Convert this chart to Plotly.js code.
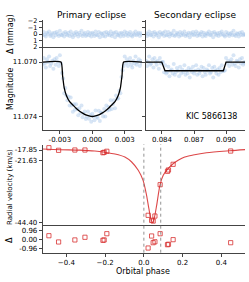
<!DOCTYPE html>
<html>
<head>
<meta charset="utf-8">
<script src="https://cdn.plot.ly/plotly-3.0.1.min.js"></script>
<style>html,body{margin:0;padding:0;background:#fff;}#chart{width:249px;height:282px;}</style>
</head>
<body>
<div id="chart"></div>
<script>
// ---- Primary eclipse photometry ----
const primPhase = [-0.0046,-0.0045,-0.0044,-0.0043,-0.0042,-0.0041,-0.0040,-0.0039,-0.0038,-0.0037,
-0.0036,-0.0035,-0.0034,-0.0033,-0.0032,-0.0031,-0.0030,-0.0029,-0.0028,-0.0027,
-0.0026,-0.0025,-0.0024,-0.0023,-0.0022,-0.0021,-0.0020,-0.0019,-0.0018,-0.0017,
-0.0016,-0.0015,-0.0014,-0.0013,-0.0012,-0.0011,-0.0010,-0.0009,-0.0008,-0.0007,
-0.0006,-0.0005,-0.0004,-0.0003,-0.0002,-0.0001,0.0000,0.0001,0.0002,0.0003,
0.0004,0.0005,0.0006,0.0007,0.0008,0.0009,0.0010,0.0011,0.0012,0.0013,
0.0014,0.0015,0.0016,0.0017,0.0018,0.0019,0.0020,0.0021,0.0022,0.0023,
0.0024,0.0025,0.0026,0.0027,0.0028,0.0029,0.0030,0.0031,0.0032,0.0033,
0.0034,0.0035,0.0036,0.0037,0.0038,0.0039,0.0040,0.0041,0.0042,0.0043,
0.0044,0.0045,0.0046];
const primMag = [11.0702,11.0697,11.0701,11.0704,11.0698,11.0700,11.0696,11.0703,11.0701,11.0699,
11.0705,11.0698,11.0702,11.0697,11.0700,11.0703,11.0695,11.0701,11.0708,11.0712,
11.0723,11.0719,11.07245,11.0728,11.07255,11.0732,11.0726,11.0732,11.07365,11.0731,
11.0735,11.0731,11.07345,11.0739,11.0734,11.07375,11.0732,11.07405,11.0738,11.07363,
11.07418,11.0740,11.07363,11.07416,11.07388,11.07439,11.0738,11.07399,11.07428,11.07356,
11.07403,11.0741,11.07358,11.07433,11.0737,11.07375,11.0740,11.07345,11.0740,11.0732,
11.07355,11.0733,11.0735,11.0728,11.07345,11.0731,11.0728,11.0734,11.07245,11.0727,
11.07265,11.0721,11.0723,11.0711,11.0706,11.0703,11.0696,11.0701,11.0698,11.0703,
11.0700,11.0697,11.0702,11.0704,11.0699,11.0701,11.0696,11.0702,11.0700,11.0698,
11.0703,11.0699,11.0701];
const primResid = [0.2,-0.3,0.1,0.4,-0.2,0.0,-0.4,0.3,0.1,-0.1,
0.5,-0.2,0.2,-0.3,0.0,0.3,-0.5,0.1,0.2,-0.1,
0.4,-0.3,0.0,0.2,-0.2,0.3,-0.4,0.1,0.5,-0.1,
0.2,-0.3,0.0,0.4,-0.2,0.1,-0.5,0.3,0.0,-0.2,
0.3,0.1,-0.3,0.2,-0.1,0.4,-0.2,0.0,0.3,-0.4,
0.1,0.2,-0.3,0.5,-0.1,0.0,0.3,-0.2,0.4,-0.3,
0.1,-0.1,0.2,-0.4,0.3,0.0,-0.2,0.5,-0.3,0.1,
0.2,-0.1,0.4,-0.2,0.0,0.3,-0.4,0.1,-0.2,0.3,
0.0,-0.3,0.2,0.4,-0.1,0.1,-0.4,0.2,0.0,-0.2,
0.3,-0.1,0.1];
const primModelPhase = [-0.0046,-0.0029,-0.00275,-0.0026,-0.0024,-0.0021,-0.0018,-0.0015,-0.0012,-0.0009,-0.0006,-0.0003,0,
0.0003,0.0006,0.0009,0.0012,0.0015,0.0018,0.0021,0.0024,0.0026,0.00275,0.0029,0.0046];
const primModelMag = [11.0700,11.0700,11.0710,11.0719,11.07245,11.0729,11.07315,11.0734,11.0736,11.07375,11.07388,11.07396,11.0740,
11.07396,11.07388,11.07375,11.0736,11.0734,11.07315,11.0729,11.07245,11.0719,11.0710,11.0700,11.0700];

// ---- Secondary eclipse photometry ----
const secPhase = [0.0825,0.0826,0.0827,0.0828,0.0829,0.0830,0.0831,0.0832,0.0833,0.0834,
0.0835,0.0836,0.0837,0.0838,0.0839,0.0840,0.0841,0.0842,0.0843,0.0844,
0.0845,0.0846,0.0847,0.0848,0.0849,0.0850,0.0851,0.0852,0.0853,0.0854,
0.0855,0.0856,0.0857,0.0858,0.0859,0.0860,0.0861,0.0862,0.0863,0.0864,
0.0865,0.0866,0.0867,0.0868,0.0869,0.0870,0.0871,0.0872,0.0873,0.0874,
0.0875,0.0876,0.0877,0.0878,0.0879,0.0880,0.0881,0.0882,0.0883,0.0884,
0.0885,0.0886,0.0887,0.0888,0.0889,0.0890,0.0891,0.0892,0.0893,0.0894,
0.0895,0.0896,0.0897,0.0898,0.0899,0.0900,0.0901,0.0902,0.0903,0.0904,
0.0905,0.0906,0.0907,0.0908,0.0909,0.0910,0.0911,0.0912,0.0913,0.0914,
0.0915,0.0916,0.0917,0.0918];
const secMag = [11.0699,11.0703,11.0700,11.0696,11.0702,11.0701,11.0698,11.0704,11.0697,11.0700,
11.0702,11.0699,11.0705,11.0697,11.0701,11.0700,11.0700,11.07075,11.07024,11.07084,
11.07074,11.07034,11.07104,11.07064,11.07054,11.07084,11.07014,11.07094,11.07074,11.07044,
11.07064,11.07104,11.07034,11.07084,11.07054,11.07074,11.07024,11.07094,11.07064,11.07084,
11.07044,11.07114,11.07054,11.07074,11.07034,11.07084,11.07064,11.07024,11.07094,11.07054,
11.07084,11.07064,11.07034,11.07104,11.07044,11.07074,11.07094,11.07054,11.07064,11.07024,
11.07084,11.07074,11.07044,11.07114,11.07034,11.07064,11.07084,11.07054,11.07094,11.07044,
11.07074,11.07024,11.07064,11.07065,11.0706,11.0697,11.0701,11.0699,11.0703,11.0700,
11.0698,11.0702,11.0695,11.0701,11.0703,11.0699,11.0700,11.0704,11.0698,11.0701,
11.0697,11.0702,11.0700,11.0701];
const secResid = [-0.1,0.3,0.0,-0.4,0.2,0.1,-0.2,0.4,-0.3,0.0,
0.2,-0.1,0.5,-0.3,0.1,0.0,-0.2,0.3,-0.4,0.2,
0.1,-0.3,0.4,0.0,-0.1,0.2,-0.5,0.3,0.1,-0.2,
0.0,0.4,-0.3,0.2,-0.1,0.1,-0.4,0.3,0.0,0.2,
-0.2,0.5,-0.1,0.1,-0.3,0.2,0.0,-0.4,0.3,-0.1,
0.2,0.0,-0.3,0.4,-0.2,0.1,0.3,-0.1,0.0,-0.4,
0.2,0.1,-0.2,0.5,-0.3,0.0,0.2,-0.1,0.3,-0.2,
0.1,-0.4,0.0,0.2,0.4,-0.3,0.1,-0.1,0.3,0.0,
-0.2,0.2,-0.5,0.1,0.3,-0.1,0.0,0.4,-0.2,0.1,
-0.3,0.2,0.0,0.1];
const secModelPhase = [0.0825,0.08398,0.08428,0.08975,0.0900,0.0918];
const secModelMag = [11.0700,11.0700,11.07064,11.07064,11.0700,11.0700];

// ---- Radial velocities ----
const rvModelPhase = [-0.522,-0.433,-0.330,-0.253,-0.201,-0.149,-0.098,-0.063,-0.029,-0.004,0.014,0.026,0.036,0.045,0.053,0.066,0.083,0.100,0.125,0.151,0.177,0.211,0.254,0.323,0.443,0.522];
const rvModel = [-17.5,-17.75,-17.9,-18.22,-18.69,-19.31,-20.41,-22.23,-25.26,-28.92,-34.40,-39.29,-42.94,-44.40,-42.94,-38.05,-30.74,-27.09,-24.68,-22.85,-21.61,-20.41,-19.68,-18.84,-18.10,-17.70];
const rvPhase = [-0.490,-0.440,-0.356,-0.304,-0.211,-0.205,-0.191,0.022,0.040,0.048,0.057,0.084,0.122,0.127,0.151,0.448];
const rvObs = [-17.01,-17.96,-17.85,-17.85,-18.84,-18.69,-18.32,-41.70,-43.53,-43.79,-41.96,-30.52,-25.63,-25.15,-23.07,-18.22];
const rvResid = [0.41,-0.27,-0.05,0.24,-0.09,-0.05,0.63,-0.93,0.38,-0.35,-0.25,0.63,-0.57,-0.52,-0.02,-0.35];
const eclipsePhases = [0.0, 0.087];

// ---- Ticks ----
const primTicks = [-0.003, 0.0, 0.003];
const primTickText = ['-0.003', '0.000', '0.003'];
const secTicks = [0.084, 0.087, 0.090];
const secTickText = ['0.084', '0.087', '0.090'];
const magTicks = [11.070, 11.074];
const magTickText = ['11.070', '11.074'];
const dmagTicks = [-2, -1, 0, 1, 2];
const dmagTickText = ['\u22122', '\u22121', '0', '1', '2'];
const rvTicks = [-17.85, -21.63, -44.40];
const rvTickText = ['-17.85', '-21.63', '-44.40'];
const rvResTicks = [0.96, 0.0, -0.96];
const rvResTickText = ['0.96', '0.00', '-0.96'];
const phaseTicks = [-0.4, -0.2, 0.0, 0.2, 0.4];
const phaseTickText = ['\u22120.4', '\u22120.2', '0.0', '0.2', '0.4'];

const FONT = 'DejaVu Sans';
const ptColor = 'rgba(160,192,232,0.42)';
const red = 'rgba(214,39,40,0.85)';

const base = {showline:true, linecolor:'#444', linewidth:1, ticks:'outside', ticklen:3, tickwidth:1,
  tickcolor:'#444', showgrid:false, zeroline:false, automargin:false,
  tickfont:{family:FONT, size:7, color:'#000'}};

const ptMarker = {size:4, color:ptColor};
const traces = [
  {x:primPhase, y:primResid, xaxis:'x', yaxis:'y', mode:'markers', type:'scatter', marker:ptMarker},
  {x:secPhase, y:secResid, xaxis:'x2', yaxis:'y2', mode:'markers', type:'scatter', marker:ptMarker},
  {x:primPhase, y:primMag, xaxis:'x', yaxis:'y3', mode:'markers', type:'scatter', marker:ptMarker},
  {x:primModelPhase, y:primModelMag, xaxis:'x', yaxis:'y3', mode:'lines', type:'scatter',
   line:{color:'#000', width:1.3, shape:'spline', smoothing:0.5}},
  {x:secPhase, y:secMag, xaxis:'x2', yaxis:'y4', mode:'markers', type:'scatter', marker:ptMarker},
  {x:secModelPhase, y:secModelMag, xaxis:'x2', yaxis:'y4', mode:'lines', type:'scatter',
   line:{color:'#000', width:1.3}},
  {x:rvModelPhase, y:rvModel, xaxis:'x3', yaxis:'y5', mode:'lines', type:'scatter',
   line:{color:red, width:1.1, shape:'spline', smoothing:0.8}},
  {x:rvPhase, y:rvObs, xaxis:'x3', yaxis:'y5', mode:'markers', type:'scatter',
   marker:{symbol:'square-open', size:4.2, color:red, line:{width:0.9, color:red}}},
  {x:rvPhase, y:rvResid, xaxis:'x3', yaxis:'y6', mode:'markers', type:'scatter',
   marker:{symbol:'square-open', size:4.2, color:red, line:{width:0.9, color:red}}}
];

const shapes = eclipsePhases.map(p => ({type:'line', xref:'x3', yref:'paper', x0:p, x1:p,
  y0:0.1039, y1:0.489, line:{color:'#777', width:0.8, dash:'dot'}}));

function ann(text, x, y, size, angle) {
  return {text:text, x:x, y:y, xref:'paper', yref:'paper', showarrow:false,
    xanchor:'center', yanchor:'middle', textangle:angle||0,
    font:{family:FONT, size:size, color:'#000'}};
}

const layout = {
  width:249, height:282, margin:{l:0, r:0, t:0, b:0},
  paper_bgcolor:'#fff', plot_bgcolor:'#fff', showlegend:false,
  xaxis:Object.assign({}, base, {domain:[0.1715,0.5703], anchor:'y3', range:[-0.00459,0.0046],
    tickvals:primTicks, ticktext:primTickText, mirror:true}),
  xaxis2:Object.assign({}, base, {domain:[0.585,0.984], anchor:'y4', range:[0.08247,0.09178],
    tickvals:secTicks, ticktext:secTickText, mirror:true}),
  xaxis3:Object.assign({}, base, {domain:[0.1715,0.984], anchor:'y6', range:[-0.522,0.522],
    tickvals:phaseTicks, ticktext:phaseTickText, mirror:true}),
  yaxis:Object.assign({}, base, {domain:[0.8298,0.929], anchor:'x', range:[2.15,-2.15],
    tickvals:dmagTicks, ticktext:dmagTickText, tickfont:{family:FONT, size:6.5, color:'#000'}}),
  yaxis2:Object.assign({}, base, {domain:[0.8298,0.929], anchor:'x2', range:[2.15,-2.15],
    tickvals:dmagTicks, showticklabels:false}),
  yaxis3:Object.assign({}, base, {domain:[0.539,0.8298], anchor:'x', range:[11.07499,11.06897],
    tickvals:magTicks, ticktext:magTickText}),
  yaxis4:Object.assign({}, base, {domain:[0.539,0.8298], anchor:'x2', range:[11.07499,11.06897],
    tickvals:magTicks, showticklabels:false}),
  yaxis5:Object.assign({}, base, {domain:[0.1986,0.486], anchor:'x3', range:[-45.6,-16.0],
    tickvals:rvTicks, ticktext:rvTickText}),
  yaxis6:Object.assign({}, base, {domain:[0.1039,0.1986], anchor:'x3', range:[-1.44,1.47],
    tickvals:rvResTicks, ticktext:rvResTickText}),
  shapes:shapes,
  annotations:[
    ann('Primary eclipse', 0.3709, 0.947, 9),
    ann('Secondary eclipse', 0.784, 0.947, 9),
    ann('KIC 5866138', 0.851, 0.586, 8),
    ann('Orbital phase', 0.574, 0.037, 8),
    ann('\u0394 (mmag)', 0.040, 0.879, 8, -90),
    ann('Magnitude', 0.040, 0.684, 8, -90),
    ann('Radial velocity (km/s)', 0.040, 0.337, 7, -90),
    ann('\u0394', 0.040, 0.149, 8, -90)
  ]
};

Plotly.newPlot('chart', traces, layout, {displayModeBar:false, staticPlot:true});
</script>
</body>
</html>
